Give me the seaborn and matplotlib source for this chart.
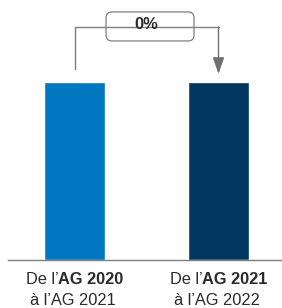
import matplotlib
matplotlib.use("Agg")
import matplotlib.pyplot as plt
from matplotlib.patches import FancyBboxPatch
import pandas as pd
import seaborn as sns

periods = ["2020-2021", "2021-2022"]
values = [1.0, 1.0]
label_line1_plain = ["De l\u2019", "De l\u2019"]
label_line1_bold = ["AG 2020", "AG 2021"]
label_line2 = ["\u00e0 l\u2019AG 2021", "\u00e0 l\u2019AG 2022"]
change_label = "0%"

BAR_COLORS = ["#0077C0", "#00365F"]
GREY = "#7f7f7f"

sns.set_theme(style="white")
plt.rcParams["font.family"] = ["Liberation Sans", "DejaVu Sans"]

df = pd.DataFrame({"period": periods, "value": values})

fig = plt.figure(figsize=(2.82, 3.08), dpi=100)
ax = fig.add_axes([8 / 282, 48 / 308, 274 / 282, 260 / 308])

sns.barplot(data=df, x="period", y="value", hue="period", palette=BAR_COLORS,
            width=0.424, legend=False, ax=ax, saturation=1)

ax.set_xlim(-0.462, 1.441)
ax.set_ylim(0, 1.46)
ax.set_xlabel("")
ax.set_ylabel("")
ax.set_xticks([])
ax.set_yticks([])
for side in ["top", "right", "left"]:
    ax.spines[side].set_visible(False)
ax.spines["bottom"].set_color(GREY)
ax.spines["bottom"].set_linewidth(1.0)

# bracket with arrow
y_start = values[0] + 0.073
y_top = 1.309
ax.plot([0, 0, 1], [y_start, y_top, y_top], color=GREY, lw=1.0, solid_joinstyle="miter")
ax.annotate("", xy=(1, values[1] + 0.045), xytext=(1, y_top),
            arrowprops=dict(arrowstyle="-|>,head_length=1.0,head_width=0.35",
                            color="#6f6f73", lw=1.0, mutation_scale=10,
                            shrinkA=0, shrinkB=0))
box = FancyBboxPatch((0.219, 1.230), 0.611, 0.163,
                     boxstyle="round,pad=0,rounding_size=0.042",
                     mutation_aspect=144 / 178, fc="none", ec=GREY, lw=0.9)
ax.add_patch(box)
ax.text(0.5, 1.322, change_label, ha="center", va="center", fontsize=12,
        fontweight="bold", color="#2a2a2a")

# category labels with mixed weights
fig.canvas.draw()
renderer = fig.canvas.get_renderer()
centers = [74.5 / 282, 218.5 / 282]
for cx, plain, bold, line2 in zip(centers, label_line1_plain, label_line1_bold, label_line2):
    t1 = fig.text(0, 0.091, plain, fontsize=11.8, color="#2a2a2a", va="center")
    t2 = fig.text(0, 0.091, bold, fontsize=11.8, fontweight="bold", color="#2a2a2a", va="center")
    w1 = t1.get_window_extent(renderer).width / fig.bbox.width
    w2 = t2.get_window_extent(renderer).width / fig.bbox.width
    x0 = cx - (w1 + w2) / 2
    t1.set_x(x0)
    t2.set_x(x0 + w1)
    fig.text(cx - 2 / 282, 0.024, line2, fontsize=11.8, color="#2a2a2a", ha="center", va="center")

fig.savefig("out.png", dpi=100)
